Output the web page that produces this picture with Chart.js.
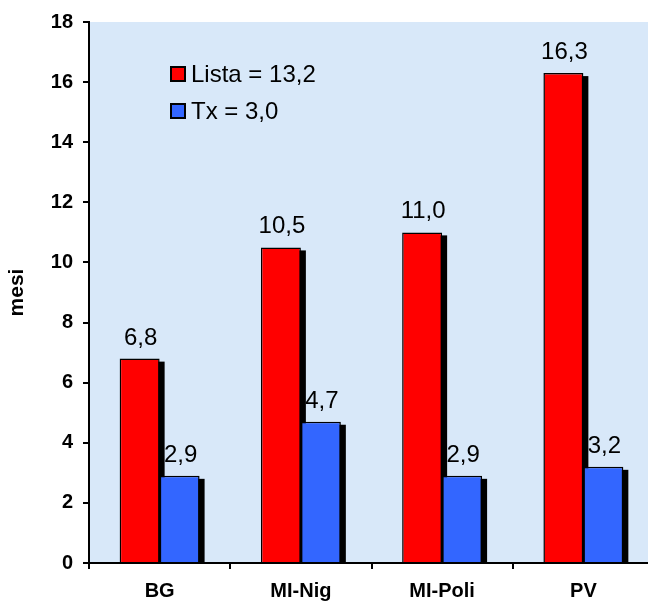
<!DOCTYPE html>
<html>
<head>
<meta charset="utf-8">
<script src="https://cdn.jsdelivr.net/npm/chart.js@4/dist/chart.umd.min.js"></script>
<style>
  html, body { margin: 0; padding: 0; background: #ffffff; overflow: hidden; }
  #wrap { width: 670px; height: 603px; position: relative; }
</style>
</head>
<body>
<div id="wrap"><canvas id="c" width="670" height="603"></canvas></div>
<script>
const categories = ['BG', 'MI-Nig', 'MI-Poli', 'PV'];
const listaValues = [6.8, 10.5, 11.0, 16.3];
const txValues = [2.9, 4.7, 2.9, 3.2];
const seriesNames = ['Lista = 13,2', 'Tx = 3,0'];
const yTicks = [0, 2, 4, 6, 8, 10, 12, 14, 16, 18];
const yTitle = 'mesi';

const FONT = 'Arial, "Liberation Sans", sans-serif';

const bgPlugin = {
  id: 'plotBg',
  beforeDraw(chart) {
    const { ctx, chartArea: a } = chart;
    ctx.save();
    ctx.fillStyle = '#d8e8f9';
    ctx.fillRect(a.left, a.top, chart.width - a.left, a.bottom - a.top);
    ctx.restore();
  }
};

const shadowPlugin = {
  id: 'barShadow',
  beforeDatasetsDraw(chart) {
    const { ctx } = chart;
    ctx.save();
    ctx.fillStyle = '#000000';
    chart.data.datasets.forEach((ds, i) => {
      chart.getDatasetMeta(i).data.forEach(bar => {
        const p = bar.getProps(['x', 'y', 'base', 'width'], true);
        ctx.fillRect(p.x - p.width / 2 + 5, p.y + 3, p.width, p.base - p.y - 3);
      });
    });
    ctx.restore();
  }
};

const labelPlugin = {
  id: 'valueLabels',
  afterDatasetsDraw(chart) {
    const { ctx } = chart;
    ctx.save();
    ctx.fillStyle = '#000000';
    ctx.font = '24px ' + FONT;
    ctx.textAlign = 'center';
    ctx.textBaseline = 'alphabetic';
    chart.data.datasets.forEach((ds, i) => {
      chart.getDatasetMeta(i).data.forEach((bar, j) => {
        const p = bar.getProps(['x', 'y'], true);
        const txt = ds.data[j].toFixed(1).replace('.', ',');
        ctx.fillText(txt, p.x + 1, p.y - 14);
      });
    });
    ctx.restore();
  }
};

const legendPlugin = {
  id: 'innerLegend',
  afterDraw(chart) {
    const { ctx } = chart;
    const x0 = 170, y0 = 74, gap = 37, box = 16;
    ctx.save();
    ctx.font = '24px ' + FONT;
    ctx.textBaseline = 'middle';
    ctx.textAlign = 'left';
    chart.data.datasets.forEach((ds, i) => {
      const cy = y0 + i * gap;
      ctx.fillStyle = '#000000';
      ctx.fillRect(x0, cy - box / 2, box, box);
      ctx.fillStyle = ds.backgroundColor;
      ctx.fillRect(x0 + 2, cy - box / 2 + 2, box - 4, box - 4);
      ctx.fillStyle = '#000000';
      ctx.fillText(ds.label, x0 + box + 5, cy + 1);
    });
    ctx.restore();
  }
};

new Chart(document.getElementById('c'), {
  type: 'bar',
  data: {
    labels: categories,
    datasets: [
      { label: seriesNames[0], data: listaValues, backgroundColor: '#ff0000', borderColor: '#000000', borderWidth: 1.5, borderSkipped: 'bottom' },
      { label: seriesNames[1], data: txValues, backgroundColor: '#3366ff', borderColor: '#000000', borderWidth: 1.5, borderSkipped: 'bottom' }
    ]
  },
  options: {
    responsive: false,
    animation: false,
    devicePixelRatio: 1,
    layout: { padding: { top: 19, right: 16, bottom: 0, left: 0 } },
    datasets: { bar: { categoryPercentage: 0.566, barPercentage: 1.0 } },
    plugins: { legend: { display: false }, tooltip: { enabled: false } },
    scales: {
      x: {
        grid: { display: true, drawOnChartArea: false, drawTicks: true, tickLength: 6, color: '#000000', lineWidth: 2, offset: true },
        border: { display: true, color: '#000000', width: 2 },
        ticks: { color: '#000000', font: { family: FONT, size: 20, weight: 'bold' }, padding: 10 },
        afterFit(scale) { scale.height = 40; }
      },
      y: {
        min: 0, max: 18,
        afterBuildTicks(scale) { scale.ticks = yTicks.map(v => ({ value: v })); },
        grid: { display: true, drawOnChartArea: false, drawTicks: true, tickLength: 6, color: '#000000', lineWidth: 2 },
        border: { display: true, color: '#000000', width: 2 },
        ticks: { color: '#000000', font: { family: FONT, size: 20, weight: 'bold' }, padding: 10 },
        title: { display: true, text: yTitle, color: '#000000', font: { family: FONT, size: 21, weight: 'bold' }, padding: { top: 5, bottom: 4 } },
        afterFit(scale) { scale.width = 89; }
      }
    }
  },
  plugins: [bgPlugin, shadowPlugin, labelPlugin, legendPlugin]
});
</script>
</body>
</html>
